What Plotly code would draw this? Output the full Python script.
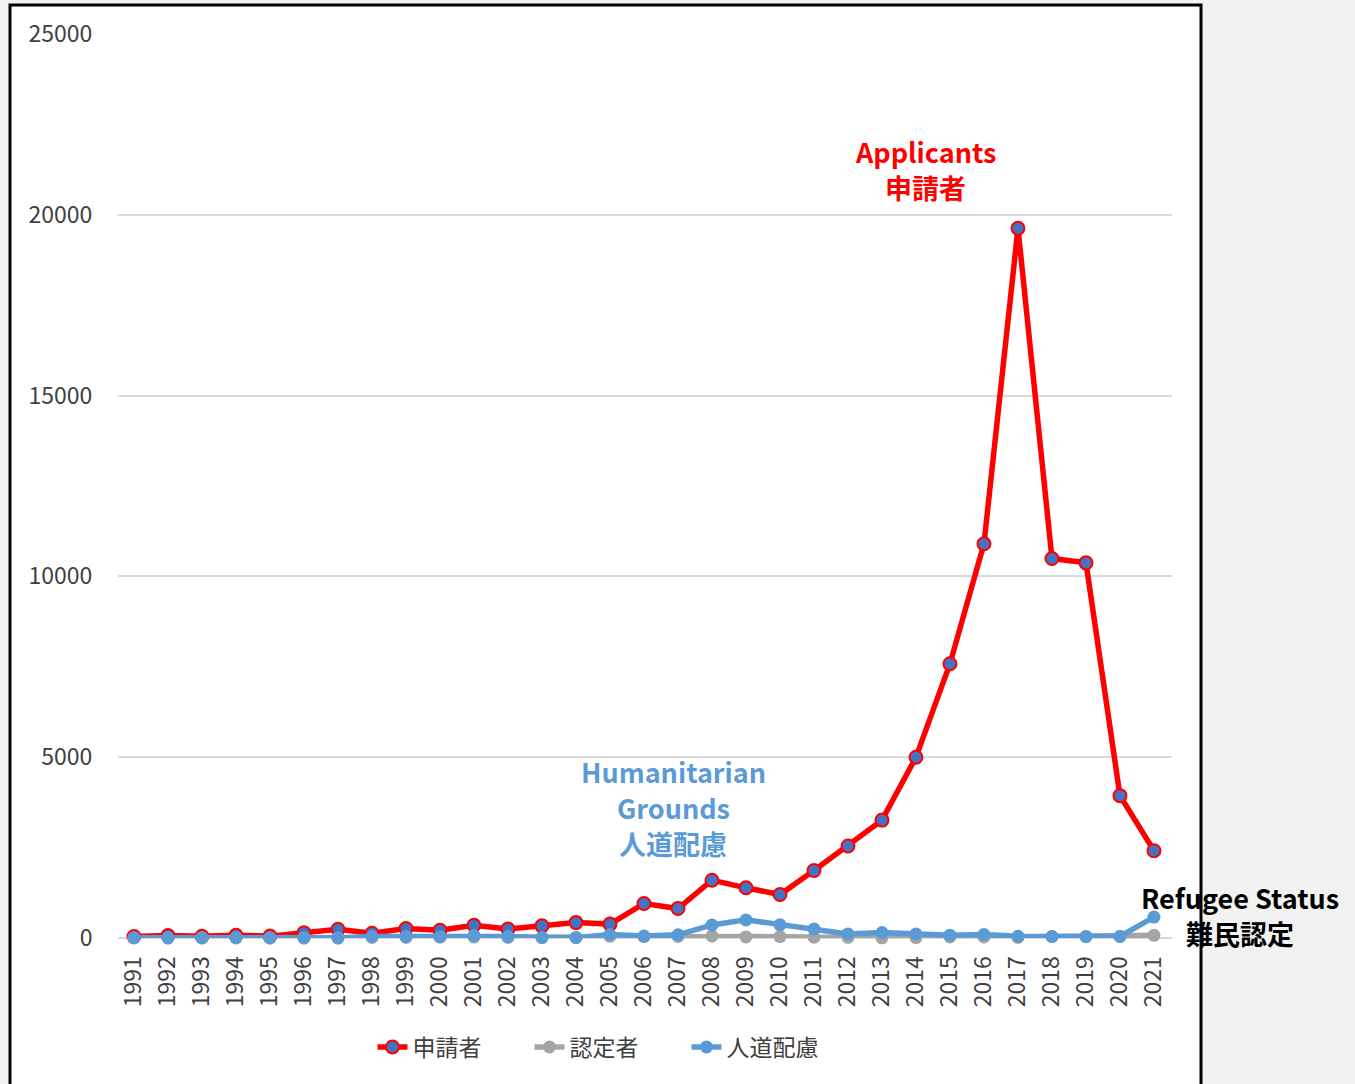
import plotly.graph_objects as go

years = list(range(1991, 2022))
applicants = [42, 68, 50, 73, 52, 147, 242, 133, 260, 216, 353, 250, 336, 426, 384,
              954, 816, 1599, 1388, 1202, 1867, 2545, 3260, 5000, 7586, 10901, 19629,
              10493, 10375, 3936, 2413]
recognized = [1, 3, 6, 1, 2, 1, 1, 16, 16, 22, 26, 14, 10, 15, 46, 34, 41, 57, 30, 39,
              21, 18, 6, 11, 27, 28, 20, 42, 44, 47, 74]
humanitarian = [7, 2, 3, 9, 3, 3, 3, 42, 44, 36, 67, 40, 16, 9, 97, 53, 88, 360, 501,
                363, 248, 112, 151, 110, 79, 97, 45, 40, 37, 44, 580]
series_names = ["申請者", "認定者", "人道配慮"]
y_ticks = [0, 5000, 10000, 15000, 20000, 25000]
y_tick_labels = ["0", "5000", "10000", "15000", "20000", "25000"]

FONT = "Noto Sans CJK JP"
TXT = "#404040"

fig = go.Figure()
fig.add_trace(go.Scatter(
    x=years, y=applicants, name=series_names[0], mode="lines+markers",
    line=dict(color="#FF0000", width=5.5),
    marker=dict(size=13, color="#4472C4", line=dict(color="#FF0000", width=2)),
    cliponaxis=False))
fig.add_trace(go.Scatter(
    x=years, y=recognized, name=series_names[1], mode="lines+markers",
    line=dict(color="#A5A5A5", width=5.5),
    marker=dict(size=13, color="#A5A5A5"),
    cliponaxis=False))
fig.add_trace(go.Scatter(
    x=years, y=humanitarian, name=series_names[2], mode="lines+markers",
    line=dict(color="#5B9BD5", width=5.5),
    marker=dict(size=13, color="#5B9BD5"),
    cliponaxis=False))

L, R, T, B = 118, 1172, 34, 938
W, H = 1355, 1084
pw, ph = R - L, B - T

def px(xp):
    return (xp - L) / pw

def py(yp):
    return (B - yp) / ph

fig.add_shape(type="rect", xref="paper", yref="paper",
              x0=px(10), x1=px(1201), y0=py(1095), y1=py(5),
              fillcolor="white", line=dict(color="black", width=3), layer="below")

def ann(text, xp, yp, color):
    fig.add_annotation(text=text, xref="paper", yref="paper", x=px(xp), y=py(yp),
                       showarrow=False, xanchor="center", yanchor="middle", align="center",
                       font=dict(family=FONT, size=27, color=color, weight="bold"))

ann("<b>Applicants</b>", 925, 151.5, "#FF0000")
ann("<b>申請者</b>", 925, 187.5, "#FF0000")
ann("<b>Humanitarian</b>", 673, 771, "#5B9BD5")
ann("<b>Grounds</b>", 673, 807, "#5B9BD5")
ann("<b>人道配慮</b>", 673, 843, "#5B9BD5")
ann("<b>Refugee Status</b>", 1240, 897.5, "#000000")
ann("<b>難民認定</b>", 1240, 933.5, "#000000")

fig.update_layout(
    width=W, height=H,
    margin=dict(l=L, r=W - R, t=T, b=H - B, autoexpand=False),
    paper_bgcolor="#F2F2F2", plot_bgcolor="rgba(0,0,0,0)",
    font=dict(family=FONT, size=23, color=TXT),
    showlegend=True,
    legend=dict(orientation="h", x=px(608), y=py(1047), xanchor="center", yanchor="middle",
                entrywidth=112,
                font=dict(family=FONT, size=23, color=TXT), bgcolor="rgba(0,0,0,0)"),
    xaxis=dict(range=[1990.53, 2021.53], tickmode="array", tickvals=years,
               ticktext=[str(y) for y in years], tickangle=-90, showgrid=False,
               zeroline=False, showline=False, ticks="outside", ticklen=8,
               tickcolor="rgba(0,0,0,0)", tickfont=dict(family=FONT, size=23, color=TXT)),
    yaxis=dict(range=[0, 25000], tickmode="array", tickvals=y_ticks, ticktext=y_tick_labels,
               showgrid=True, gridcolor="#D9D9D9",
               gridwidth=2, zeroline=True, zerolinecolor="#D9D9D9", zerolinewidth=2,
               showline=False, ticks="outside", ticklen=20, tickcolor="rgba(0,0,0,0)",
               tickfont=dict(family=FONT, size=23, color=TXT)),
)

fig.write_html("out.html", config={"displayModeBar": False},
               post_script="document.body.style.margin='0';document.body.style.overflow='hidden';")
